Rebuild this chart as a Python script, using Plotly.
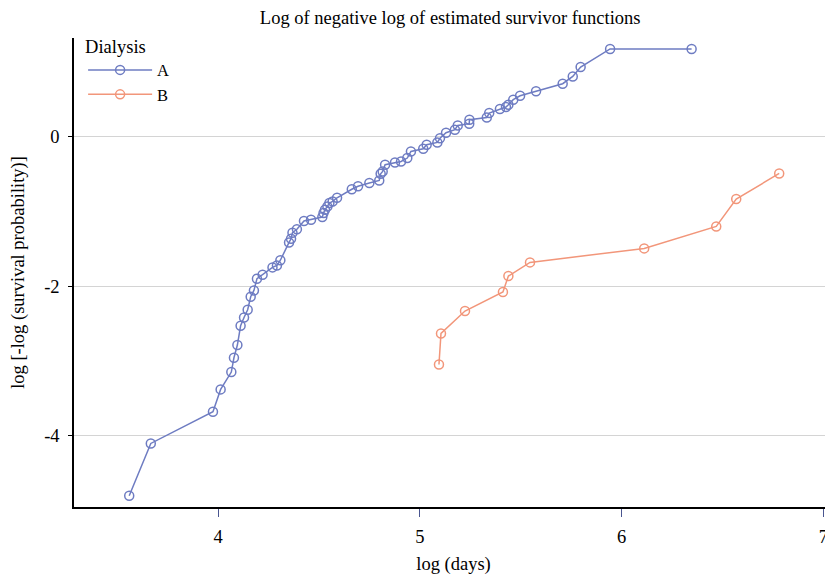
import plotly.graph_objects as go

# Dialysis A: log(days) and log[-log(S)]
a_x = [3.560, 3.667, 3.975, 4.013, 4.066, 4.079, 4.096, 4.112, 4.129, 4.147,
       4.162, 4.178, 4.193, 4.221, 4.270, 4.292, 4.309, 4.352, 4.362, 4.369,
       4.391, 4.426, 4.461, 4.517, 4.523, 4.530, 4.542, 4.552, 4.568, 4.590,
       4.663, 4.694, 4.750, 4.799, 4.806, 4.816, 4.828, 4.877, 4.907, 4.938,
       4.956, 5.017, 5.034, 5.087, 5.100, 5.130, 5.174, 5.188, 5.245, 5.246,
       5.332, 5.344, 5.397, 5.427, 5.439, 5.463, 5.497, 5.576, 5.708, 5.758,
       5.797, 5.943, 6.347]
a_y = [-4.800, -4.100, -3.676, -3.378, -3.146, -2.955, -2.785, -2.527, -2.416, -2.313,
       -2.139, -2.055, -1.898, -1.845, -1.747, -1.721, -1.651, -1.413, -1.364, -1.283,
       -1.237, -1.127, -1.110, -1.074, -1.020, -0.976, -0.932, -0.886, -0.865, -0.816,
       -0.702, -0.662, -0.619, -0.584, -0.495, -0.464, -0.374, -0.344, -0.330, -0.285,
       -0.197, -0.160, -0.107, -0.076, -0.020, 0.053, 0.094, 0.151, 0.174, 0.227,
       0.258, 0.317, 0.370, 0.397, 0.428, 0.495, 0.548, 0.608, 0.709, 0.806,
       0.932, 1.174, 1.174]

# Dialysis B
b_x = [5.095, 5.105, 5.224, 5.412, 5.439, 5.546, 6.112, 6.469, 6.568, 6.781]
b_y = [-3.044, -2.630, -2.330, -2.076, -1.862, -1.680, -1.493, -1.199, -0.833, -0.491]

x_ticks = [4, 5, 6, 7]
y_ticks = [0, -2, -4]
y_tick_text = ["0", "-2", "-4"]

col_a = "#6e7cc2"
col_b = "#f2967a"
font_family = "Liberation Serif"
fs = 18.5

fig = go.Figure()
fig.add_trace(go.Scatter(
    x=a_x, y=a_y, mode="lines+markers", name="A",
    line=dict(color=col_a, width=1.5),
    marker=dict(symbol="circle-open", size=9, color=col_a, line=dict(width=1.5)),
))
fig.add_trace(go.Scatter(
    x=b_x, y=b_y, mode="lines+markers", name="B",
    line=dict(color=col_b, width=1.5),
    marker=dict(symbol="circle-open", size=9, color=col_b, line=dict(width=1.5)),
))

# the page body adds an 8px offset, so the figure is sized to fill the remaining window
fig.update_layout(
    width=825, height=567,
    margin=dict(l=66, r=0, t=30, b=68, autoexpand=False),
    paper_bgcolor="white", plot_bgcolor="white",
    font=dict(family=font_family, size=fs, color="black"),
    title=dict(text="Log of negative log of estimated survivor functions",
               x=0.536, xanchor="center", y=0.984, yanchor="middle",
               font=dict(size=fs, family=font_family, color="black")),
    showlegend=True,
    legend=dict(x=0.012, y=1.02, xanchor="left", yanchor="top",
                bgcolor="rgba(0,0,0,0)",
                title=dict(text="Dialysis", font=dict(size=fs)),
                font=dict(size=16.5), tracegroupgap=0, itemwidth=64),
    xaxis=dict(range=[3.2864, 7.0476], tickvals=x_ticks, ticktext=[str(v) for v in x_ticks],
               showgrid=False, zeroline=False,
               showline=True, linecolor="black", linewidth=1.5,
               ticks="outside", ticklen=8, tickcolor="#4a5590", tickwidth=1,
               ticklabelstandoff=4,
               tickfont=dict(size=fs),
               title=dict(text="log (days)", font=dict(size=fs), standoff=14),
               automargin=False),
    yaxis=dict(range=[-4.95, 1.32], tickvals=y_ticks, ticktext=y_tick_text,
               showgrid=True, gridcolor="#d4d4d4", gridwidth=1, zeroline=False,
               showline=True, linecolor="black", linewidth=1.5,
               ticks="outside", ticklen=4, tickcolor="black", tickwidth=1,
               ticklabelstandoff=5,
               tickfont=dict(size=fs),
               title=dict(text="log [-log (survival probability)]", font=dict(size=fs), standoff=20),
               automargin=False),
)

fig.write_html("out.html")
